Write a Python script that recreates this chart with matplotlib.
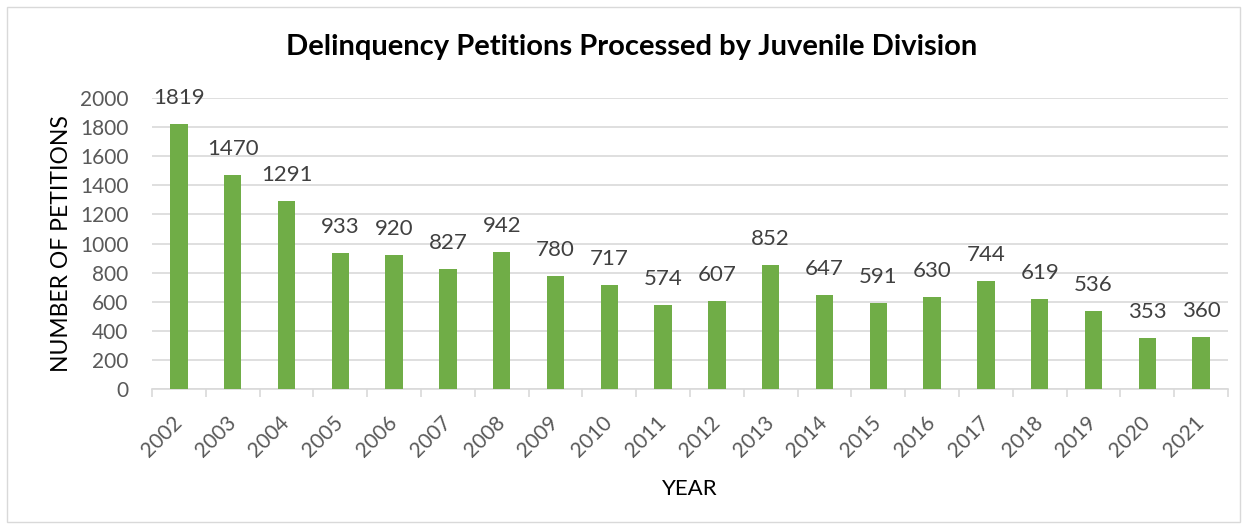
import matplotlib
matplotlib.use("Agg")
import matplotlib.pyplot as plt
from matplotlib.patches import Rectangle
import numpy as np

years = ["2002", "2003", "2004", "2005", "2006", "2007", "2008", "2009", "2010", "2011",
         "2012", "2013", "2014", "2015", "2016", "2017", "2018", "2019", "2020", "2021"]
petitions = [1819, 1470, 1291, 933, 920, 827, 942, 780, 717, 574,
             607, 852, 647, 591, 630, 744, 619, 536, 353, 360]
yticks = [0, 200, 400, 600, 800, 1000, 1200, 1400, 1600, 1800, 2000]

plt.rcParams['font.family'] = ['Lato', 'DejaVu Sans']

fig = plt.figure(figsize=(12.46, 5.29), dpi=100)
fig.patches.append(Rectangle((7/1246, 7/529), 1233/1246, 515/529, transform=fig.transFigure,
                             fill=False, edgecolor='#D9D9D9', linewidth=1))
ax = fig.add_axes([152/1246, 1-389/529, 1076/1246, 291/529])
x = np.arange(len(years))
bars = ax.bar(x, petitions, width=0.32, color='#70AD47', zorder=3)
ax.set_xlim(-0.5, len(years) - 0.5)
ax.set_ylim(0, 2000)
ax.set_yticks(yticks)
ax.set_yticklabels([str(v) for v in yticks], fontsize=15, color='#595959')
ax.yaxis.grid(True, color='#D9D9D9', linewidth=1.2, zorder=0)
ax.tick_params(axis='y', length=0, pad=17)
for s in ['top', 'right', 'left']:
    ax.spines[s].set_visible(False)
ax.spines['bottom'].set_color('#D9D9D9')
ax.spines['bottom'].set_linewidth(1.2)
ax.set_xticks(x)
ax.set_xticklabels(years, rotation=45, ha='right', va='center', rotation_mode='anchor',
                   fontsize=15, color='#595959')
ax.tick_params(axis='x', length=0, pad=22)
ax.set_xticks(np.arange(len(years) + 1) - 0.5, minor=True)
ax.tick_params(axis='x', which='minor', length=6, color='#D9D9D9', width=1.2)
for xi, v in zip(x, petitions):
    ax.annotate(str(v), (xi, v), xytext=(0, 16), textcoords='offset pixels',
                ha='center', va='bottom', fontsize=16, color='#404040')
ax.set_ylabel('NUMBER OF PETITIONS', fontsize=16.5, color='black', labelpad=6)
ax.set_xlabel('YEAR', fontsize=16, color='black', labelpad=13)
fig.text(632/1246, 1-47/529, 'Delinquency Petitions Processed by Juvenile Division',
         ha='center', va='center', fontsize=21, fontweight='bold', color='black')
fig.savefig('out.png', dpi=100)
